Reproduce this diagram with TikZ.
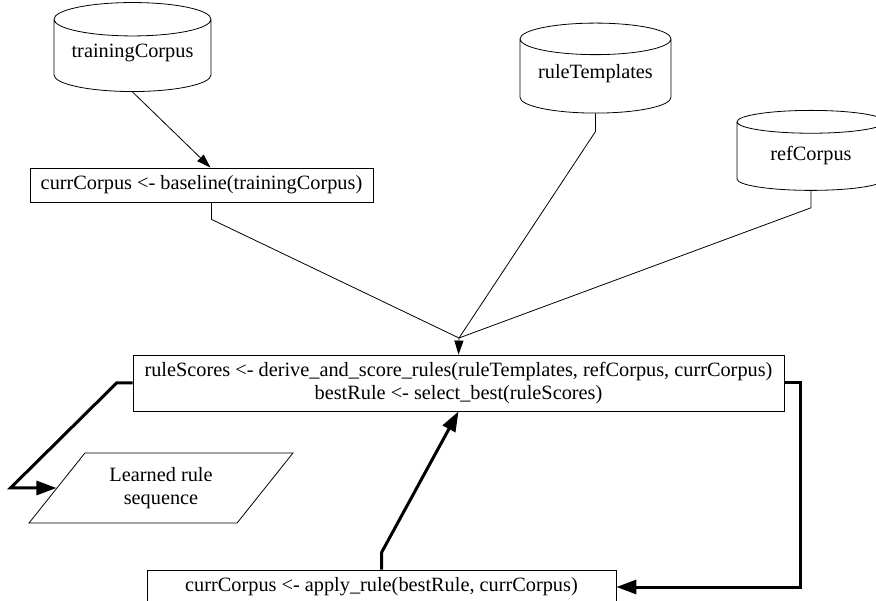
\documentclass[tikz,border=0pt]{standalone}
\usepackage{fontspec}
\setmainfont{Liberation Serif}
\usepackage{tikz}
\usetikzlibrary{arrows.meta,shapes.geometric,positioning}
\tikzstyle{block} = [rectangle, draw, text centered, minimum height=34pt, line width=0.8pt]
\tikzstyle{store} = [cylinder, shape border rotate=90, draw, aspect=0.26, line width=0.8pt, text depth=14pt]
\tikzstyle{output} = [trapezium, trapezium left angle=50, trapezium right angle=130,
    trapezium stretches=true, draw, line width=0.8pt]
\tikzstyle{seg} = [draw, line width=0.8pt]
\tikzstyle{line} = [draw, line width=0.8pt, -{Triangle[length=14pt,width=9pt]}]
\tikzstyle{loop} = [draw, line width=3pt, -{Triangle[length=20pt,width=14pt]}]

\begin{document}
\begin{tikzpicture}[x=1pt,y=-1pt,align=center,font=\fontsize{20.3}{23}\selectfont]
    \useasboundingbox (0,0) rectangle (876,601);
    % Place nodes
    \node [store, minimum width=157pt, minimum height=89pt] (training) at (132.5,58) {trainingCorpus};
    \node [store, minimum width=151pt, minimum height=90pt] (templates) at (595.5,78.5) {ruleTemplates};
    \node [store, minimum width=148pt, minimum height=80pt, text depth=10pt] (ref) at (811,158) {refCorpus};
    \node [block, minimum width=343pt] (baseline) at (201.5,185) {currCorpus <- baseline(trainingCorpus)};
    \node [block, minimum width=651pt, minimum height=56pt] (scores) at (458.5,383)
        {ruleScores <- derive\_and\_score\_rules(ruleTemplates, refCorpus, currCorpus)\\
        bestRule <- select\_best(ruleScores)};
    \node [output, minimum width=264pt, minimum height=70pt] (learned) at (161,488) {Learned rule\\ sequence};
    \node [block, minimum width=469pt] (apply) at (381.5,587) {currCorpus <- apply\_rule(bestRule, currCorpus)};
    \coordinate (merge) at (459,338);
    % Draw edges
    \path [line] (training.south) -- ([xshift=9pt]baseline.north);
    \path [seg] ([xshift=10pt]baseline.south) -- ++(0,17) -- (merge);
    \path [seg] (templates.south) -- ++(0,18) -- (merge);
    \path [seg] (ref.south) -- ++(0,17) -- (merge);
    \path [line] (merge) -- (scores.north);
    \path [loop] (scores.west) -- ++(-16,0) -- ([xshift=-46pt]learned.west) -- (learned.west);
    \path [loop] (scores.east) -- ++(16,0) |- (apply.east);
    \path [loop] (apply.north) -- ++(0,-17) -- (scores.south);
\end{tikzpicture}
\end{document}
